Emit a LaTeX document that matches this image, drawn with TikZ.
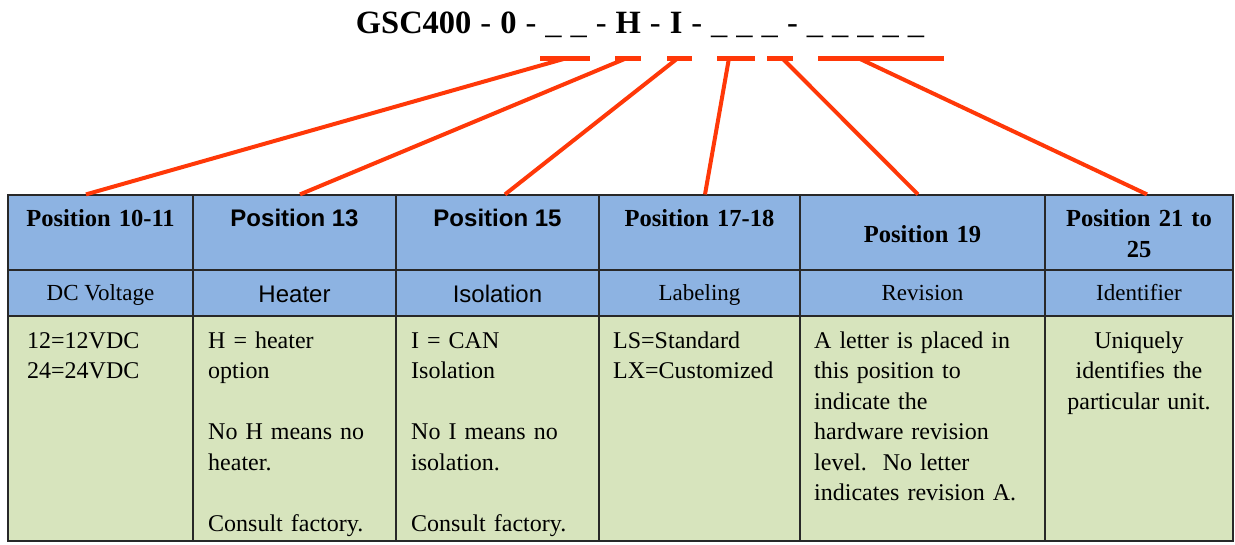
\documentclass[tikz,border=0pt]{standalone}
\usepackage{fontspec}
\setmainfont{Liberation Serif}
\newfontfamily\arialfont{Liberation Sans}
\usetikzlibrary{positioning}

\definecolor{headblue}{RGB}{141,179,226}
\definecolor{bodygreen}{RGB}{215,228,189}
\definecolor{linkred}{RGB}{255,56,8}
\definecolor{gridline}{RGB}{40,40,40}

\tikzset{
  cell/.style={rectangle, draw=gridline, line width=1.2pt, inner sep=0pt},
  hdcell/.style={cell, fill=headblue, minimum height=75},
  sbcell/.style={cell, fill=headblue, minimum height=46},
  bdcell/.style={cell, fill=bodygreen, minimum height=225},
  hdtext/.style={anchor=base, inner sep=0pt, align=center, text width=180,
    font=\fontsize{24.5}{31}\selectfont\bfseries},
  hdsans/.style={anchor=base, inner sep=0pt, font=\fontsize{24}{31}\selectfont\arialfont\bfseries},
  sbtext/.style={anchor=base, inner sep=0pt, font=\fontsize{23}{30}\selectfont},
  sbsans/.style={anchor=base, inner sep=0pt, font=\fontsize{24}{30}\selectfont\arialfont},
  bdtext/.style={anchor=base west, inner sep=0pt, align=left, text width=190,
    font=\fontsize{24}{30.5}\selectfont},
  titletext/.style={anchor=base, inner sep=0pt, font=\fontsize{32.5}{36}\selectfont},
  bar/.style={rectangle, fill=linkred, inner sep=0pt, minimum height=5},
  link/.style={draw=linkred, line width=4pt},
}

\begin{document}
\begin{tikzpicture}[x=1pt, y=-1pt]
    \useasboundingbox (0,0) rectangle (1235,544);

    % the part number with its open positions
    \node[titletext] (code) at (640, 33)
      {\spaceskip=9pt\textbf{GSC400} - \textbf{0} - \_ \_ - \textbf{H} - \textbf{I} - \_ \_ \_ - \_ \_ \_ \_ \_};

    % markers under the open positions
    \node[bar, minimum width=50]  (bar1) at (565, 58) {};
    \node[bar, minimum width=26]  (bar2) at (628, 58) {};
    \node[bar, minimum width=25]  (bar3) at (679.5, 58) {};
    \node[bar, minimum width=38]  (bar4) at (736, 58) {};
    \node[bar, minimum width=26]  (bar5) at (780, 58) {};
    \node[bar, minimum width=126] (bar6) at (881, 58) {};

    % table cells, three rows per column
    \foreach \c/\l/\r in {1/8/193,2/193/396,3/396/599,4/599/800,5/800/1045,6/1045/1233} {
      \node[hdcell, minimum width={\r-\l}] (hd\c) at ({(\l+\r)/2}, 232.5) {};
      \node[sbcell, minimum width={\r-\l}] (sb\c) at ({(\l+\r)/2}, 293) {};
      \node[bdcell, minimum width={\r-\l}] (bd\c) at ({(\l+\r)/2}, 428.5) {};
    };

    % header row
    \node[hdtext] (pos1) at (100.5, 226) {Position 10-11};
    \node[hdsans] (pos2) at (294.5, 226) {Position 13};
    \node[hdsans] (pos3) at (497.5, 226) {Position 15};
    \node[hdtext] (pos4) at (699.5, 226) {Position 17-18};
    \node[hdtext] (pos5) at (922.5, 242) {Position 19};
    \node[hdtext] (pos6) at (1139, 226) {Position 21 to\\25};

    % what each position is
    \node[sbtext] (kind1) at (100.5, 300) {DC Voltage};
    \node[sbsans] (kind2) at (294.5, 302) {Heater};
    \node[sbsans] (kind3) at (497.5, 302) {Isolation};
    \node[sbtext] (kind4) at (699.5, 300) {Labeling};
    \node[sbtext] (kind5) at (922.5, 300) {Revision};
    \node[sbtext] (kind6) at (1139, 300) {Identifier};

    % the options
    \node[bdtext] (opt1) at (27, 348) {12=12VDC\\24=24VDC};
    \node[bdtext] (opt2) at (208, 348) {H = heater\\option\\[30.5pt]No H means no\\heater.\\[30.5pt]Consult factory.};
    \node[bdtext] (opt3) at (411, 348) {I = CAN\\Isolation\\[30.5pt]No I means no\\isolation.\\[30.5pt]Consult factory.};
    \node[bdtext] (opt4) at (613, 348) {LS=Standard\\LX=Customized};
    \node[bdtext, text width=225] (opt5) at (814, 348)
      {A letter is placed in\\this position to\\indicate the\\hardware revision\\level.\ \ No letter\\indicates revision A.};
    \node[bdtext, anchor=base, align=center, text width=175] (opt6) at (1139, 348)
      {Uniquely\\identifies the\\particular unit.};

    % leader lines from the markers to the columns
    \draw[link] ([xshift=2]bar1.center) -- ([xshift=-14.5]hd1.north);
    \draw[link] ([xshift=-1]bar2.center) -- ([xshift=5.5]hd2.north);
    \draw[link] ([xshift=-1.5]bar3.center) -- ([xshift=7.5]hd3.north);
    \draw[link] ([xshift=-7]bar4.center) -- ([xshift=5.5]hd4.north);
    \draw[link] ([xshift=2]bar5.center) -- ([xshift=-4.5]hd5.north);
    \draw[link] ([xshift=-23]bar6.center) -- ([xshift=8]hd6.north);
\end{tikzpicture}
\end{document}
